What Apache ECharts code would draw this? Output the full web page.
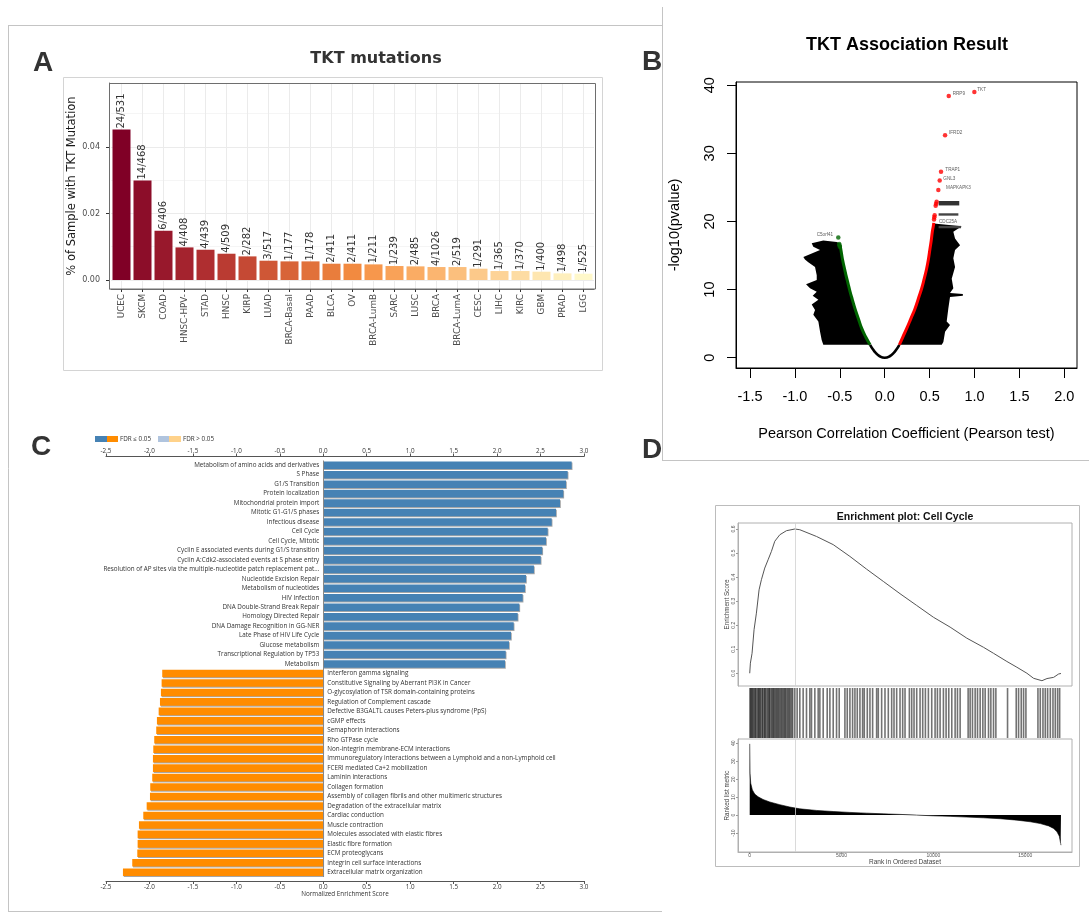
<!DOCTYPE html>
<html><head><meta charset="utf-8">
<script src="https://cdn.jsdelivr.net/npm/echarts@6/dist/echarts.min.js"></script>
<style>html,body{margin:0;padding:0;background:#fff}#c{width:1089px;height:917px}</style>
</head><body><div id="c"></div>
<script>
// ---------------- Panel A: TKT mutations ----------------
const mutCategories = ['UCEC','SKCM','COAD','HNSC-HPV-','STAD','HNSC','KIRP','LUAD','BRCA-Basal','PAAD','BLCA','OV','BRCA-LumB','SARC','LUSC','BRCA','BRCA-LumA','CESC','LIHC','KIRC','GBM','PRAD','LGG'];
const mutFraction = [0.0452,0.0299,0.0148,0.0098,0.0091,0.0079,0.0071,0.0058,0.0056,0.0056,0.0049,0.0049,0.0047,0.0042,0.0041,0.0039,0.0039,0.0034,0.0027,0.0027,0.0025,0.0020,0.0019];
const mutCounts = ['24/531','14/468','6/406','4/408','4/439','4/509','2/282','3/517','1/177','1/178','2/411','2/411','1/211','1/239','2/485','4/1026','2/519','1/291','1/365','1/370','1/400','1/498','1/525'];
const mutYTicks = [0, 0.02, 0.04];
const mutYMinorTicks = [0.01, 0.03, 0.05];

// ---------------- Panel B: association volcano ----------------
const pearsonTicks = [-1.5,-1.0,-0.5,0.0,0.5,1.0,1.5,2.0];
const pvalueTicks = [0,10,20,30,40];
const nullCurve = [[-0.163,1.9],[-0.13,1.2],[-0.1,0.7],[-0.06,0.25],[0,0],[0.06,0.25],[0.1,0.7],[0.13,1.2],[0.163,1.9]];
const posCurve = [[0.163,1.9],[0.2,3.0],[0.245,4.3],[0.29,5.7],[0.337,7.2],[0.375,8.7],[0.412,10.2],[0.44,11.6],[0.467,13.1],[0.487,14.5],[0.504,16.0],[0.518,17.2],[0.530,18.5],[0.541,19.3],[0.546,19.8]];
const negCurve = [[-0.163,1.9],[-0.21,3.0],[-0.256,4.3],[-0.295,5.8],[-0.331,7.2],[-0.36,8.5],[-0.386,9.7],[-0.41,11.0],[-0.431,12.1],[-0.45,13.2],[-0.468,14.3],[-0.48,15.2],[-0.49,16.0],[-0.497,16.4]];
const posPoints = [[0.998,39.0],[0.713,38.4],[0.672,32.65],[0.627,27.3],[0.612,26.0],[0.597,24.6],[0.578,22.9],[0.572,22.6],[0.567,22.3],[0.556,20.9],[0.552,20.6],[0.549,20.3]];
const negPoints = [[-0.517,17.65],[-0.507,16.7],[-0.503,16.5],[-0.5,16.3]];
const geneNames = ['TKT','RRP9','IFRD2','TRAP1','GNL3','MAPKAPK3','CDC25A','C5orf41'];
const geneLabelPos = [[1.031,39.4],[0.757,38.8],[0.716,33.05],[0.675,27.6],[0.653,26.3],[0.683,24.9],[0.605,19.9],[-0.757,18.0]];
const leftLabelMass = [[-0.535,17.0],[-0.684,17.2],[-0.813,16.8],[-0.795,16.3],[-0.72,15.8],[-0.906,14.8],[-0.888,14.4],[-0.851,14.0],[-0.776,13.3],[-0.757,12.1],[-0.757,11.4],[-0.876,10.8],[-0.832,10.2],[-0.757,9.7],[-0.802,9.1],[-0.739,8.5],[-0.813,7.8],[-0.776,7.0],[-0.795,6.3],[-0.739,5.3],[-0.72,3.8],[-0.702,2.6],[-0.684,1.9],[-0.171,1.9],[-0.256,4.3],[-0.331,7.2],[-0.386,9.7],[-0.431,12.1],[-0.468,14.3],[-0.49,16.0],[-0.505,16.8]];
const rightLabelMass = [[0.546,19.7],[0.857,19.3],[0.764,18.5],[0.783,17.5],[0.839,16.5],[0.783,15.8],[0.764,14.6],[0.783,13.3],[0.746,11.6],[0.764,10.2],[0.727,9.5],[0.87,9.35],[0.87,9.1],[0.727,8.9],[0.708,7.2],[0.69,5.3],[0.727,4.8],[0.672,3.8],[0.653,2.3],[0.635,1.9],[0.16,1.9],[0.2,3.0],[0.245,4.3],[0.29,5.7],[0.337,7.2],[0.375,8.7],[0.412,10.2],[0.44,11.6],[0.467,13.1],[0.487,14.5],[0.504,16.0],[0.518,17.2],[0.53,18.5],[0.541,19.2]];
const labelSmudge1 = [[0.6,23.0],[0.83,23.0],[0.83,22.35],[0.6,22.35]];
const labelSmudge2 = [[0.6,21.2],[0.82,21.2],[0.82,20.85],[0.6,20.85]];
const labelSmudge3 = [[0.6,19.35],[0.85,19.35],[0.85,19.0],[0.6,19.0]];

// ---------------- Panel C: GSEA NES ----------------
const upPathways = ['Metabolism of amino acids and derivatives','S Phase','G1/S Transition','Protein localization','Mitochondrial protein import','Mitotic G1-G1/S phases','Infectious disease','Cell Cycle','Cell Cycle, Mitotic','Cyclin E associated events during G1/S transition','Cyclin A:Cdk2-associated events at S phase entry','Resolution of AP sites via the multiple-nucleotide patch replacement pat...','Nucleotide Excision Repair','Metabolism of nucleotides','HIV Infection','DNA Double-Strand Break Repair','Homology Directed Repair','DNA Damage Recognition in GG-NER','Late Phase of HIV Life Cycle','Glucose metabolism','Transcriptional Regulation by TP53','Metabolism'];
const upNES = [2.858,2.812,2.793,2.762,2.724,2.678,2.628,2.582,2.563,2.520,2.502,2.424,2.333,2.321,2.294,2.256,2.237,2.191,2.160,2.137,2.099,2.091];
const downPathways = ['Interferon gamma signaling','Constitutive Signaling by Aberrant PI3K in Cancer','O-glycosylation of TSR domain-containing proteins','Regulation of Complement cascade','Defective B3GALTL causes Peters-plus syndrome (PpS)','cGMP effects','Semaphorin interactions','Rho GTPase cycle','Non-integrin membrane-ECM interactions','Immunoregulatory interactions between a Lymphoid and a non-Lymphoid cell','FCERI mediated Ca+2 mobilization','Laminin interactions','Collagen formation','Assembly of collagen fibrils and other multimeric structures','Degradation of the extracellular matrix','Cardiac conduction','Muscle contraction','Molecules associated with elastic fibres','Elastic fibre formation','ECM proteoglycans','Integrin cell surface interactions','Extracellular matrix organization'];
const downNES = [-1.853,-1.860,-1.868,-1.879,-1.894,-1.914,-1.922,-1.945,-1.956,-1.960,-1.960,-1.968,-1.991,-1.994,-2.032,-2.071,-2.121,-2.136,-2.136,-2.140,-2.198,-2.305];

// ---------------- Panel D: enrichment plot ----------------
const esRank = [0,36,127,236,364,509,636,818,1000,1182,1364,1636,2000,2455,2727,3636,4545,5455,6364,7273,8182,9091,10000,10909,11818,12727,13273,14000,14545,15091,15455,15909,16182,16545,16818,16945];
const esScore = [0.0,0.042,0.083,0.181,0.25,0.347,0.389,0.4375,0.472,0.507,0.549,0.576,0.593,0.600,0.597,0.569,0.535,0.486,0.433,0.382,0.331,0.282,0.233,0.192,0.146,0.108,0.083,0.049,0.025,0.0,-0.021,-0.031,-0.022,-0.017,-0.003,-0.001];
const hitRanks = [10,60,95,150,190,260,300,350,420,470,510,560,610,680,720,790,830,880,950,1010,1060,1100,1170,1230,1280,1330,1390,1450,1500,1560,1610,1680,1730,1790,1850,1910,1960,2030,2090,2150,2210,2280,2340,
  2455,2582,2727,2909,3091,3273,3364,3545,3727,3818,4000,4218,4364,4545,4727,4873,
  5182,5309,5455,5600,5727,5855,6000,6145,6236,
  6400,6545,6691,6909,7000,7182,7364,7545,7727,7855,8000,8182,8327,8455,
  8691,8818,8945,9091,9273,9418,9564,9727,9909,10091,10218,10364,10545,10691,10836,11000,11182,11309,11455,
  11891,12000,12127,12273,12400,12545,12691,12818,13000,13127,13273,13400,
  14036,14509,14636,14782,14909,15036,
  15691,15818,15964,16091,16218,16364,16509,16636,16764,16873];
const metricRank = [0,18,55,145,273,455,727,1091,1636,2182,2727,3636,4545,5455,6364,7273,8182,9091,10000,10909,11818,12727,13636,14545,15273,15818,16273,16545,16727,16855,16927,16945];
const metricValue = [39.6,23.3,17.7,14.0,11.7,10.2,8.7,7.3,5.8,4.5,3.5,2.6,2.0,1.5,1.1,0.7,0.4,0.0,-0.4,-0.7,-1.1,-1.5,-2.0,-2.8,-3.7,-4.7,-6.0,-7.4,-9.3,-11.7,-15.8,-16.7];
const esTicks = [0,0.1,0.2,0.3,0.4,0.5,0.6];
const metricTicks = [-10,0,10,20,30,40];
const rankTicks = [0,5000,10000,15000];
const leadingEdgeRank = 2455;

// ---------------- styles ----------------
const mutColors = ['#800026','#8c0d29','#98182c','#a4232e','#af2e30','#ba3b32','#c54934','#cf5736','#d86438','#e1713a','#e97d3c','#f28a40','#f7974c','#f9a258','#faac64','#fbb570','#fbbf7d','#fcc98a','#fdd397','#fddca3','#fee6b0','#feefbd','#fff8ca'];
const FA = 'DejaVu Sans', FB = 'Liberation Sans', FC = 'Open Sans';
const UP_COLOR = '#4682B4', DOWN_COLOR = '#FF8C00';

function polygonSeries(points, color, xi, yi) {
  return {
    type: 'custom', xAxisIndex: xi, yAxisIndex: yi, silent: true, z: 1,
    data: points,
    encode: {x: 0, y: 1},
    renderItem: function (params, api) {
      if (params.dataIndex !== 0) return null;
      return {type: 'polygon', shape: {points: points.map(p => api.coord(p))}, style: {fill: color}};
    }
  };
}
function edgeLine(color) { return {show: true, onZero: false, lineStyle: {color: color, width: 1}}; }

const pathways = upPathways.concat(downPathways);
const nes = upNES.concat(downNES);

const chart = echarts.init(document.getElementById('c'), null, {renderer: 'canvas', width: 1089, height: 917});

const gridBase = {containLabel: false, outerBoundsMode: 'none'};
const noLine = {show: false, onZero: false};
const option = {
  animation: false,
  backgroundColor: '#fff',
  grid: [
    Object.assign({left: 111, top: 83, width: 483, height: 206}, gridBase),
    Object.assign({left: 736, top: 82, width: 341, height: 286, show: true, borderColor: '#000', borderWidth: 1}, gridBase),
    Object.assign({left: 106, top: 460.5, width: 478, height: 416.5}, gridBase),
    Object.assign({left: 738, top: 523, width: 334, height: 163, show: true, borderColor: '#b0b0b0', borderWidth: 1}, gridBase),
    Object.assign({left: 738, top: 688, width: 334, height: 50}, gridBase),
    Object.assign({left: 738, top: 739, width: 334, height: 113, show: true, borderColor: '#b0b0b0', borderWidth: 1}, gridBase)
  ],
  xAxis: [
    // 0: A categories
    {type: 'category', gridIndex: 0, data: mutCategories, position: 'bottom',
     axisLine: edgeLine('#6e6e6e'),
     axisTick: {show: true, alignWithLabel: true, length: 3, lineStyle: {color: '#333'}},
     axisLabel: {interval: 0, rotate: 90, fontSize: 8.8, color: '#4d4d4d', fontFamily: FA, margin: 5},
     splitLine: {show: false}},
    // 1: A vertical grid lines at category centres
    {type: 'value', gridIndex: 0, min: -0.5, max: mutCategories.length - 0.5, position: 'top',
     axisLine: noLine, axisLabel: {show: false},
     axisTick: {show: false, customValues: mutCategories.map((c, i) => i)},
     splitLine: {show: true, lineStyle: {color: '#ebebeb', width: 1}}},
    // 2: B pearson
    {type: 'value', gridIndex: 1, min: -1.656, max: 2.141, position: 'bottom',
     axisLine: edgeLine('#000'),
     axisTick: {show: true, customValues: pearsonTicks, length: 10, lineStyle: {color: '#000'}},
     axisLabel: {customValues: pearsonTicks, formatter: v => v.toFixed(1), fontSize: 14.5, color: '#000', fontFamily: FB, margin: 21},
     splitLine: {show: false},
     name: 'Pearson Correlation Coefficient (Pearson test)', nameLocation: 'middle', nameGap: 58,
     nameTextStyle: {fontSize: 14.5, color: '#000', fontFamily: FB}},
    // 3: C top
    {type: 'value', gridIndex: 2, min: -2.5, max: 3.0, interval: 0.5, position: 'top', offset: 4,
     axisLine: edgeLine('#555'),
     axisTick: {show: true, length: 3, lineStyle: {color: '#555'}},
     axisLabel: {formatter: v => v.toFixed(1), fontSize: 6.3, color: '#333', fontFamily: FC, margin: 2},
     splitLine: {show: false}},
    // 4: C bottom
    {type: 'value', gridIndex: 2, min: -2.5, max: 3.0, interval: 0.5, position: 'bottom', offset: 4,
     axisLine: edgeLine('#555'),
     axisTick: {show: true, length: 3, lineStyle: {color: '#555'}},
     axisLabel: {formatter: v => v.toFixed(1), fontSize: 6.3, color: '#333', fontFamily: FC, margin: 3},
     splitLine: {show: false},
     name: 'Normalized Enrichment Score', nameLocation: 'middle', nameGap: 10,
     nameTextStyle: {fontSize: 6.3, color: '#333', fontFamily: FC}},
    // 5: D ES
    {type: 'value', gridIndex: 3, min: -638, max: 17545, axisLine: noLine, axisTick: {show: false}, axisLabel: {show: false}, splitLine: {show: false}},
    // 6: D hits
    {type: 'value', gridIndex: 4, min: -638, max: 17545, axisLine: noLine, axisTick: {show: false}, axisLabel: {show: false}, splitLine: {show: false}},
    // 7: D ranked metric
    {type: 'value', gridIndex: 5, min: -638, max: 17545, position: 'bottom',
     axisLine: edgeLine('#b0b0b0'),
     axisTick: {show: true, customValues: rankTicks, length: 2, lineStyle: {color: '#999'}},
     axisLabel: {customValues: rankTicks, formatter: v => String(v), fontSize: 5, color: '#555', fontFamily: FB, margin: 1},
     splitLine: {show: false},
     name: 'Rank in Ordered Dataset', nameLocation: 'middle', nameGap: 2.5,
     nameTextStyle: {fontSize: 6.5, color: '#444', fontFamily: FB}}
  ],
  yAxis: [
    // 0: A fraction
    {type: 'value', gridIndex: 0, min: -0.0027, max: 0.0592, offset: 2, position: 'left',
     axisLine: edgeLine('#6e6e6e'),
     axisTick: {show: true, customValues: mutYTicks, length: 3, lineStyle: {color: '#333'}},
     axisLabel: {customValues: mutYTicks, formatter: v => v.toFixed(2), fontSize: 8, color: '#4d4d4d', fontFamily: FA, margin: 9},
     splitLine: {show: true, lineStyle: {color: '#ebebeb', width: 1}},
     name: '% of Sample with TKT Mutation', nameLocation: 'middle', nameGap: 29,
     nameTextStyle: {fontSize: 11.5, color: '#1a1a1a', fontFamily: FA}},
    // 1: A minor grid
    {type: 'value', gridIndex: 0, min: -0.0027, max: 0.0592, position: 'right',
     axisLine: noLine, axisLabel: {show: false},
     axisTick: {show: false, customValues: mutYMinorTicks},
     splitLine: {show: true, lineStyle: {color: '#f3f3f3', width: 0.8}}},
    // 2: B -log10 p
    {type: 'value', gridIndex: 1, min: -1.51, max: 40.47, position: 'left',
     axisLine: edgeLine('#000'),
     axisTick: {show: true, customValues: pvalueTicks, length: 9, lineStyle: {color: '#000'}},
     axisLabel: {customValues: pvalueTicks, rotate: 90, fontSize: 14.5, color: '#000', fontFamily: FB, margin: 19},
     splitLine: {show: false},
     name: '-log10(pvalue)', nameLocation: 'middle', nameGap: 54,
     nameTextStyle: {fontSize: 14.5, color: '#000', fontFamily: FB}},
    // 3: C pathways
    {type: 'category', gridIndex: 2, data: pathways, inverse: true,
     axisLine: noLine, axisTick: {show: false}, axisLabel: {show: false}, splitLine: {show: false}},
    // 4: D ES
    {type: 'value', gridIndex: 3, min: -0.053, max: 0.625, position: 'left',
     axisLine: edgeLine('#b0b0b0'),
     axisTick: {show: true, customValues: esTicks, length: 2, lineStyle: {color: '#999'}},
     axisLabel: {customValues: esTicks, formatter: v => v.toFixed(1), rotate: 90, fontSize: 5, color: '#555', fontFamily: FB, margin: 2},
     splitLine: {show: false},
     name: 'Enrichment Score', nameLocation: 'middle', nameGap: 8,
     nameTextStyle: {fontSize: 6.3, color: '#444', fontFamily: FB}},
    // 5: D hits
    {type: 'value', gridIndex: 4, min: 0, max: 1, axisLine: noLine, axisTick: {show: false}, axisLabel: {show: false}, splitLine: {show: false}},
    // 6: D metric
    {type: 'value', gridIndex: 5, min: -20.5, max: 42.3, position: 'left',
     axisLine: edgeLine('#b0b0b0'),
     axisTick: {show: true, customValues: metricTicks, length: 2, lineStyle: {color: '#999'}},
     axisLabel: {customValues: metricTicks, rotate: 90, fontSize: 5, color: '#555', fontFamily: FB, margin: 2},
     splitLine: {show: false},
     name: 'Ranked list metric', nameLocation: 'middle', nameGap: 8,
     nameTextStyle: {fontSize: 6.3, color: '#444', fontFamily: FB}}
  ],
  series: [
    // ---- A
    {type: 'bar', xAxisIndex: 0, yAxisIndex: 0, barWidth: 18, z: 3,
     data: mutFraction.map((v, i) => ({value: v, itemStyle: {color: mutColors[i]}})),
     label: {show: true, position: 'top', rotate: 90, align: 'left', verticalAlign: 'middle', distance: 1,
             formatter: p => mutCounts[p.dataIndex], fontSize: 10, color: '#333', fontFamily: FA}},
    // ---- B
    polygonSeries(leftLabelMass, '#000', 2, 2),
    polygonSeries(rightLabelMass, '#000', 2, 2),
    polygonSeries(labelSmudge1, '#333', 2, 2),
    polygonSeries(labelSmudge2, '#444', 2, 2),
    polygonSeries(labelSmudge3, '#444', 2, 2),
    {type: 'line', xAxisIndex: 2, yAxisIndex: 2, data: nullCurve, symbol: 'none', smooth: true, z: 4,
     lineStyle: {color: '#000', width: 2.6}},
    {type: 'line', xAxisIndex: 2, yAxisIndex: 2, data: negCurve, symbol: 'none', smooth: true, z: 4,
     lineStyle: {color: '#006400', width: 3}},
    {type: 'line', xAxisIndex: 2, yAxisIndex: 2, data: posCurve, symbol: 'none', smooth: true, z: 4,
     lineStyle: {color: '#ff0000', width: 3}},
    {type: 'scatter', xAxisIndex: 2, yAxisIndex: 2, data: posPoints, symbolSize: 4.5, z: 5,
     itemStyle: {color: '#ff0000'}},
    {type: 'scatter', xAxisIndex: 2, yAxisIndex: 2, data: negPoints, symbolSize: 4.5, z: 5,
     itemStyle: {color: '#006400'}},
    {type: 'scatter', xAxisIndex: 2, yAxisIndex: 2, symbolSize: 0, z: 6, silent: true,
     data: geneLabelPos.map((p, i) => ({name: geneNames[i], value: p})),
     label: {show: true, position: 'right', distance: 0, formatter: '{b}', fontSize: 4.6, color: '#333', fontFamily: FB}},
    // ---- C
    {type: 'bar', xAxisIndex: 3, yAxisIndex: 3, barCategoryGap: '20%', z: 3,
     data: nes.map(v => ({
       value: v,
       itemStyle: {color: v > 0 ? UP_COLOR : DOWN_COLOR, shadowColor: 'rgba(0,0,0,0.35)', shadowOffsetX: 0.8, shadowOffsetY: 1, shadowBlur: 0},
       label: {position: v > 0 ? 'left' : 'right'}
     })),
     label: {show: true, formatter: '{b}', distance: 4, fontSize: 6.3, color: '#333', fontFamily: FC},
     markLine: {silent: true, symbol: 'none', label: {show: false}, lineStyle: {color: '#888', width: 1, type: 'solid'},
                data: [{xAxis: 0}]}},
    // ---- D
    {type: 'line', xAxisIndex: 5, yAxisIndex: 4, data: esRank.map((r, i) => [r, esScore[i]]), symbol: 'none', z: 4,
     lineStyle: {color: '#555', width: 1},
     markLine: {silent: true, symbol: 'none', label: {show: false}, lineStyle: {color: '#d0d0d0', width: 0.8, type: 'solid'},
                data: [{xAxis: leadingEdgeRank}]}},
    {type: 'custom', xAxisIndex: 6, yAxisIndex: 5, silent: true,
     data: hitRanks.map(r => [r, 1]), encode: {x: 0, y: 1},
     renderItem: function (params, api) {
       const base = api.coord([api.value(0), 0]);
       const top = api.coord([api.value(0), api.value(1)]);
       return {type: 'rect', shape: {x: base[0] - 0.8, y: top[1], width: 1.6, height: base[1] - top[1]},
               style: {fill: 'rgba(0,0,0,0.55)'}};
     }},
    {type: 'line', xAxisIndex: 7, yAxisIndex: 6, data: metricRank.map((r, i) => [r, metricValue[i]]), symbol: 'none', z: 3,
     lineStyle: {color: '#000', width: 0.6}, areaStyle: {color: '#000', opacity: 1, origin: 0},
     markLine: {silent: true, symbol: 'none', label: {show: false}, lineStyle: {color: '#d0d0d0', width: 0.8, type: 'solid'},
                data: [{xAxis: leadingEdgeRank}]}}
  ],
  graphic: {elements: [
    // frames
    {type: 'line', z: 50, shape: {x1: 8, y1: 25.5, x2: 662, y2: 25.5}, style: {stroke: '#c4c4c4', lineWidth: 1}},
    {type: 'line', z: 50, shape: {x1: 8.5, y1: 25, x2: 8.5, y2: 912}, style: {stroke: '#c4c4c4', lineWidth: 1}},
    {type: 'line', z: 50, shape: {x1: 8, y1: 911.5, x2: 662, y2: 911.5}, style: {stroke: '#c4c4c4', lineWidth: 1}},
    {type: 'line', z: 50, shape: {x1: 662.5, y1: 7, x2: 662.5, y2: 460.5}, style: {stroke: '#c4c4c4', lineWidth: 1}},
    {type: 'line', z: 50, shape: {x1: 662, y1: 460.5, x2: 1089, y2: 460.5}, style: {stroke: '#c4c4c4', lineWidth: 1}},
    // A plot background border and panel border
    {type: 'rect', z: 50, shape: {x: 63.5, y: 77.5, width: 539, height: 293}, style: {fill: 'none', stroke: '#d4d4d4', lineWidth: 1}},
    {type: 'rect', z: 50, shape: {x: 109.5, y: 83.5, width: 486, height: 205.5}, style: {fill: 'none', stroke: '#6e6e6e', lineWidth: 1}},
    // D outer box
    {type: 'rect', z: 50, shape: {x: 715.5, y: 505.5, width: 364, height: 361}, style: {fill: 'none', stroke: '#bcbcbc', lineWidth: 1}},
    // panel letters
    {type: 'text', z: 60, style: {text: 'A', x: 43, y: 63, align: 'center', verticalAlign: 'middle', font: 'bold 28px "Liberation Sans"', fill: '#333'}},
    {type: 'text', z: 60, style: {text: 'B', x: 652, y: 62, align: 'center', verticalAlign: 'middle', font: 'bold 28px "Liberation Sans"', fill: '#333'}},
    {type: 'text', z: 60, style: {text: 'C', x: 41, y: 447, align: 'center', verticalAlign: 'middle', font: 'bold 28px "Liberation Sans"', fill: '#333'}},
    {type: 'text', z: 60, style: {text: 'D', x: 652, y: 450, align: 'center', verticalAlign: 'middle', font: 'bold 28px "Liberation Sans"', fill: '#333'}},
    // titles
    {type: 'text', z: 60, style: {text: 'TKT mutations', x: 376, y: 59, align: 'center', verticalAlign: 'middle', font: 'bold 16px "DejaVu Sans"', fill: '#333'}},
    {type: 'text', z: 60, style: {text: 'TKT Association Result', x: 907, y: 45, align: 'center', verticalAlign: 'middle', font: 'bold 18px "Liberation Sans"', fill: '#000'}},
    {type: 'text', z: 60, style: {text: 'Enrichment plot: Cell Cycle', x: 905, y: 517, align: 'center', verticalAlign: 'middle', font: 'bold 10.5px "Liberation Sans"', fill: '#111'}},
    // C legend
    {type: 'rect', z: 60, shape: {x: 95, y: 436, width: 12, height: 6}, style: {fill: UP_COLOR}},
    {type: 'rect', z: 60, shape: {x: 107, y: 436, width: 11, height: 6}, style: {fill: DOWN_COLOR}},
    {type: 'text', z: 60, style: {text: 'FDR \u2264 0.05', x: 120, y: 439.5, verticalAlign: 'middle', font: '6.3px "Open Sans"', fill: '#333'}},
    {type: 'rect', z: 60, shape: {x: 158, y: 436, width: 11, height: 6}, style: {fill: '#B0C4DE'}},
    {type: 'rect', z: 60, shape: {x: 169, y: 436, width: 12, height: 6}, style: {fill: '#FFD28A'}},
    {type: 'text', z: 60, style: {text: 'FDR > 0.05', x: 183, y: 439.5, verticalAlign: 'middle', font: '6.3px "Open Sans"', fill: '#333'}}
  ]}
};
chart.setOption(option);
</script>
</body></html>
